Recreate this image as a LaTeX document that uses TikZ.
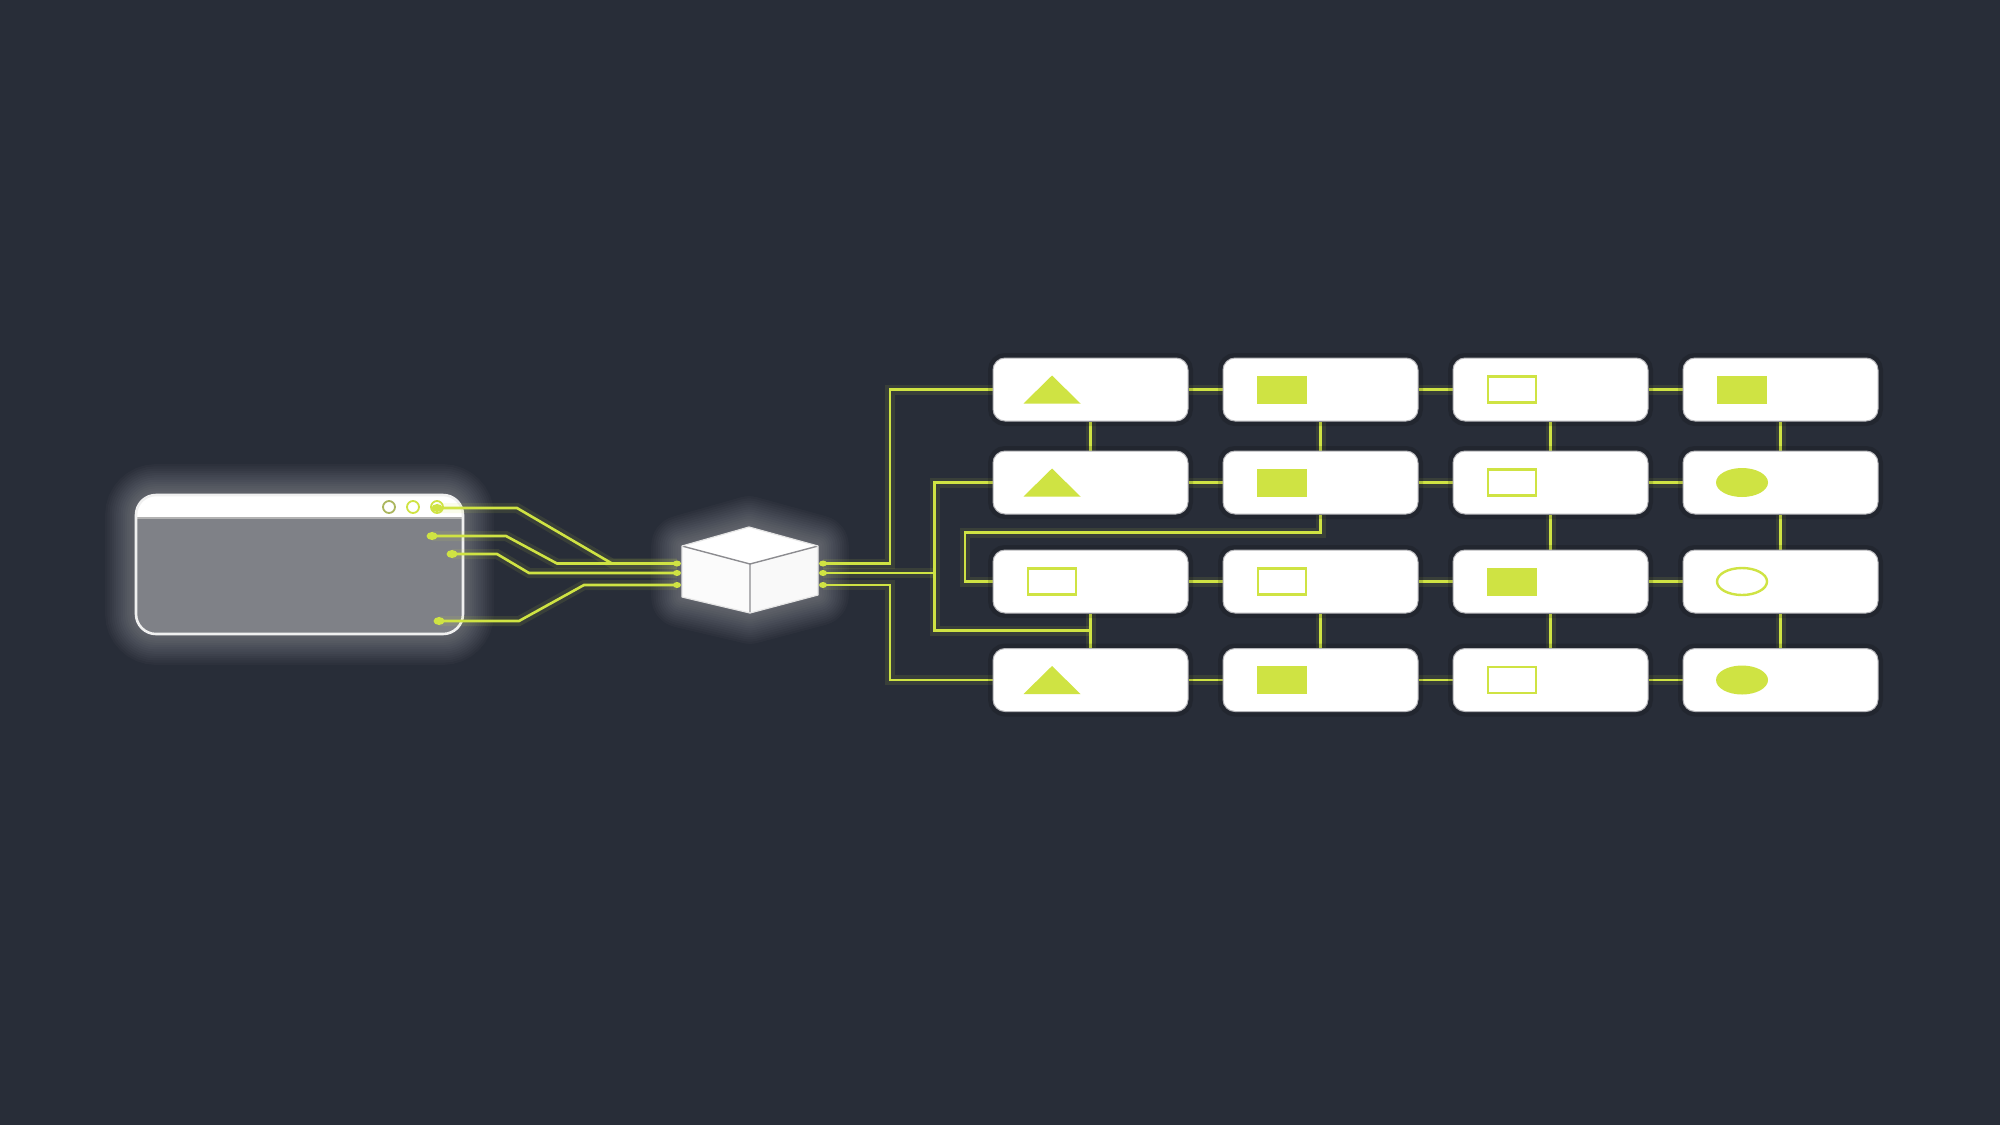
\documentclass[tikz,border=0pt]{standalone}
\usetikzlibrary{calc,shapes.geometric}
\pgfdeclarelayer{bgl}
\pgfdeclarelayer{back}
\pgfsetlayers{bgl,back,main}
\definecolor{bg}{HTML}{282D38}
\definecolor{lime}{HTML}{CFE343}
\definecolor{wingray}{HTML}{7F8187}
\definecolor{edgegray}{HTML}{B4B4B8}
\definecolor{cubeedge}{HTML}{8C8C90}
\begin{document}
\begin{tikzpicture}[x=0.5pt,y=-0.5pt,
  wire/.style={lime, line width=1.3pt, preaction={draw, lime, line width=5pt, opacity=0.10}},
  cell/.style={rectangle, rounded corners=6pt, fill=white, draw=edgegray, line width=0.5pt,
    minimum width=97.5pt, minimum height=31.5pt, inner sep=0pt,
    preaction={draw=black, line width=5pt, opacity=0.15}},
  port/.style={ellipse, fill=lime, minimum width=5.5pt, minimum height=4pt, inner sep=0pt},
  cport/.style={ellipse, fill=lime, minimum width=4pt, minimum height=3pt, inner sep=0pt},
  tri/.pic={\fill[lime] (-28.5,14) -- (28.5,14) -- (0,-14) -- cycle;},
  fsq/.pic={\fill[lime] (-25,-14) rectangle (25,14);},
  osq/.pic={\draw[lime, line width=1.2pt] (-24,-13) rectangle (24,13);},
  fel/.pic={\fill[lime] (0,0) ellipse[x radius=26, y radius=14.5];},
  oel/.pic={\draw[lime, line width=1.2pt] (0,0) ellipse[x radius=25, y radius=13.5];},
]
\begin{pgfonlayer}{bgl}
\fill[bg] (0,0) rectangle (2000,1125);
% window glow
\foreach \i in {1,...,14}{
  \draw[white, opacity=0.022, line width=2.2*\i pt, rounded corners=10pt] (136,495) rectangle (463,634);
}
\fill[wingray, rounded corners=10pt] (136,495) rectangle (463,634);
\begin{scope}
  \clip[rounded corners=10pt] (136,495) rectangle (463,634);
  \fill[white] (136,495) rectangle (463,518);
  \draw[gray!60, line width=0.6pt] (136,518) -- (463,518);
\end{scope}
\draw[white!88!gray, line width=1.3pt, rounded corners=10pt] (136,495) rectangle (463,634);
\draw[lime!55!gray, line width=0.9pt] (389,507) circle[radius=6];
\draw[lime, line width=0.9pt] (413,507) circle[radius=6];
\draw[lime, line width=0.9pt] (437,507) circle[radius=6];
% cube glow
\foreach \i in {1,...,14}{
  \draw[white, opacity=0.025, line width=2.2*\i pt, line join=round]
    (749,527) -- (818,546) -- (818,595) -- (750,613) -- (682,597) -- (682,546) -- cycle;
}
\fill[white] (749,527) -- (818,546) -- (750,564) -- (682,546) -- cycle;
\fill[white!97!gray] (682,546) -- (750,564) -- (750,613) -- (682,597) -- cycle;
\fill[white!95!gray] (750,564) -- (818,546) -- (818,595) -- (750,613) -- cycle;
\draw[cubeedge, line width=0.7pt, line join=round]
  (682,546) -- (750,564) -- (818,546) (750,564) -- (750,613);
\draw[white!80!gray, line width=0.6pt, line join=round]
  (749,527) -- (818,546) -- (818,595) -- (750,613) -- (682,597) -- (682,546) -- cycle;
\end{pgfonlayer}

% window ports
\node[port] (w1) at (437,508) {};
\node[port] (w2) at (432,536) {};
\node[port] (w3) at (452,554) {};
\node[port] (w4) at (439,621) {};
% cube ports
\node[cport] (cin1) at (677,563.5) {};
\node[cport] (cin2) at (677,573) {};
\node[cport] (cin3) at (677,585) {};
\node[cport] (cout1) at (823,563.5) {};
\node[cport] (cout2) at (823,573) {};
\node[cport] (cout3) at (823,585) {};

% grid cells
\foreach \r/\y in {1/389.5,2/482.5,3/581.5,4/680}{
  \foreach \c/\x in {1/1090.5,2/1320.5,3/1550.5,4/1780.5}{
    \node[cell] (b\r\c) at (\x,\y) {};
  }
}
% markers
\foreach \n/\m in {11/tri,12/fsq,13/osq,14/fsq,
                   21/tri,22/fsq,23/osq,24/fel,
                   31/osq,32/osq,33/fsq,34/oel,
                   41/tri,42/fsq,43/osq,44/fel}{
  \pic at ($(b\n.center)+(-38.5,0)$) {\m};
}

\begin{pgfonlayer}{back}
% window to cube
\draw[wire] (w1.center) -- (517,508) -- (612,563.5) -- (cin1.center);
\draw[wire] (w2.center) -- (506,536) -- (557,563.5) -- (cin1.center);
\draw[wire] (w3.center) -- (497,554) -- (529,573) -- (cin2.center);
\draw[wire] (w4.center) -- (519,621) -- (584,585) -- (cin3.center);
% cube to grid
\draw[wire] (cout1.center) -- ++(67,0) |- (b11.west);
\draw[wire] (cout3.center) -- ++(67,0) |- (b41.west);
\coordinate (busB) at ($(b21.west)+(-58,0)$);
\draw[wire] (b21.west) -- (busB) |- ($(b31.south)!.5!(b41.north)$);
\draw[wire] (cout2.center) -- (cout2.center -| busB);
\draw[wire] (b22.south) -- ++(0,18) -- ++(-355.5,0) |- (b31.west);
% grid rows
\foreach \r in {1,2,3,4}{
  \draw[wire] (b\r1.east) -- (b\r2.west);
  \draw[wire] (b\r2.east) -- (b\r3.west);
  \draw[wire] (b\r3.east) -- (b\r4.west);
}
% grid columns
\foreach \a/\b in {11/21,31/41,12/22,32/42,13/23,23/33,33/43,14/24,24/34,34/44}{
  \draw[wire] (b\a.south) -- (b\b.north);
}
\end{pgfonlayer}
\end{tikzpicture}
\end{document}
